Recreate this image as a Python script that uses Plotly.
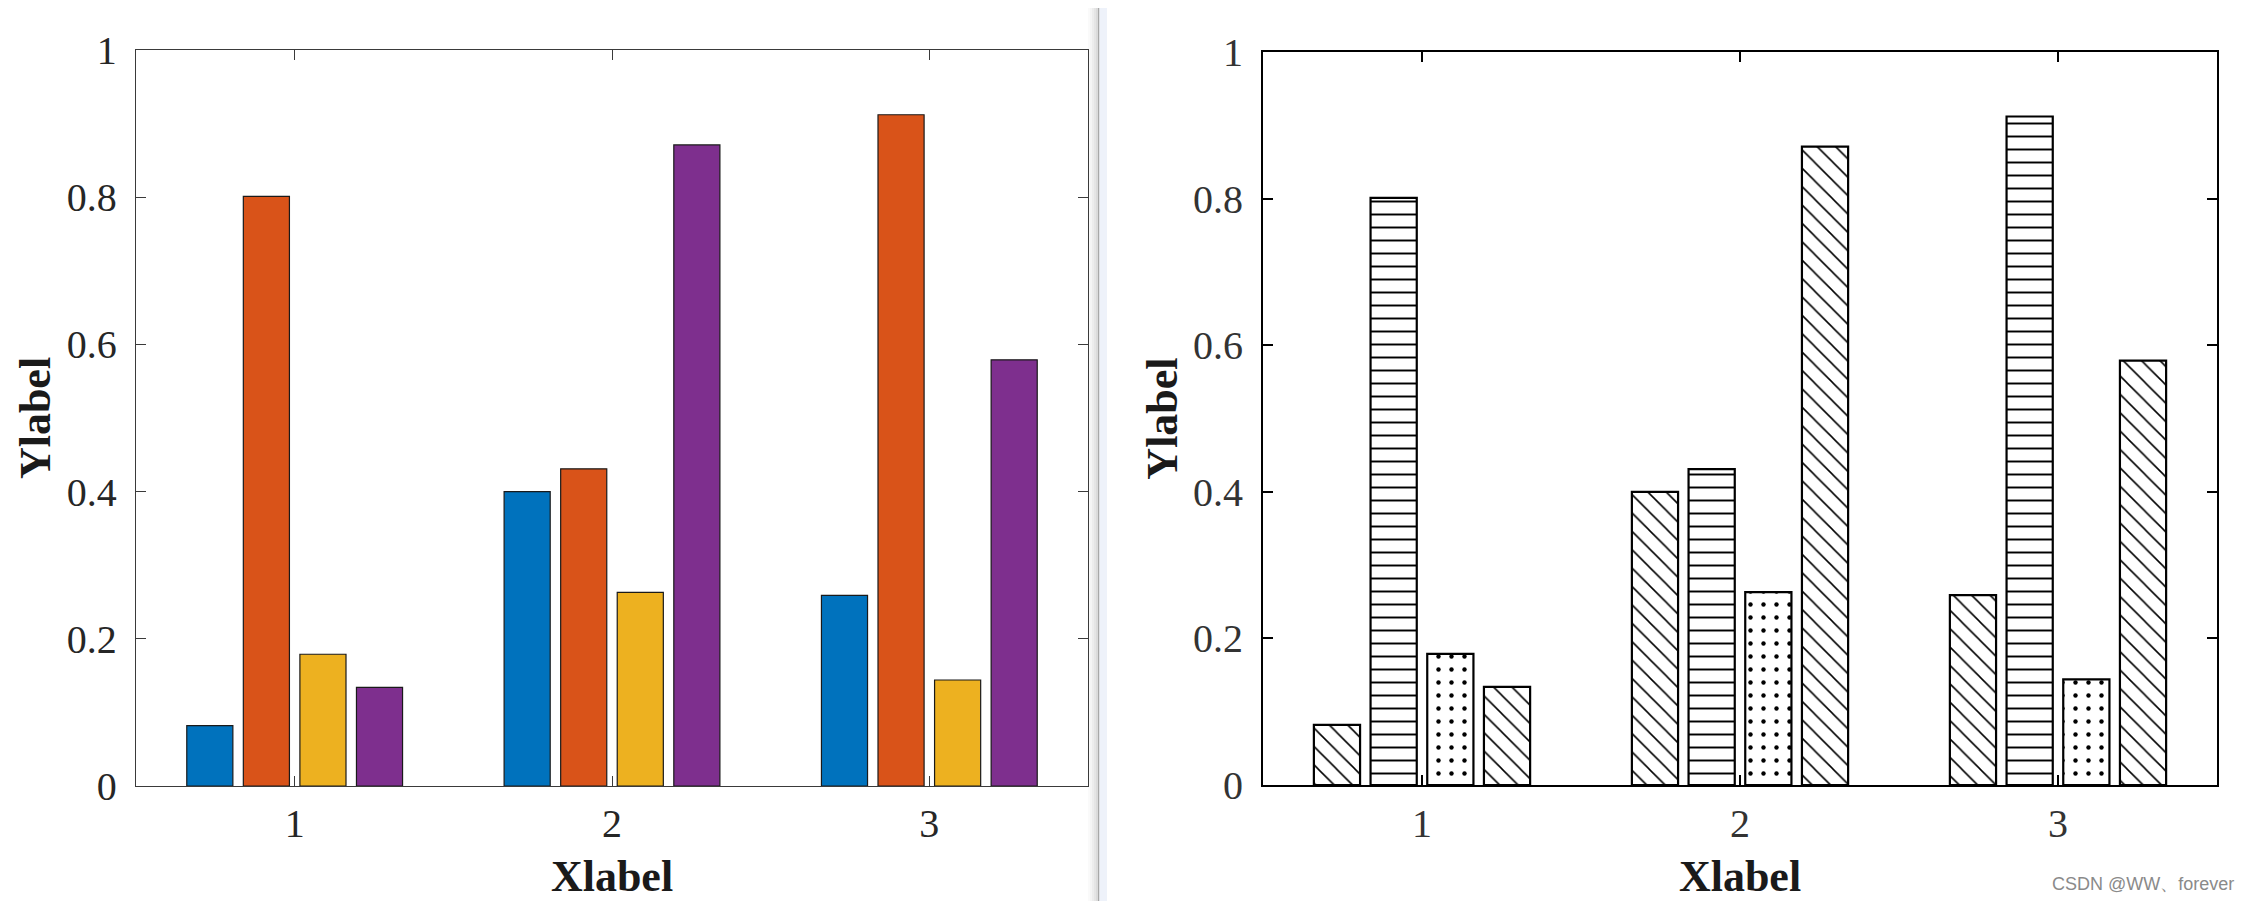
import plotly.graph_objects as go
from plotly.subplots import make_subplots

groups = [1, 2, 3]
series_a = [0.082, 0.400, 0.259]
series_b = [0.801, 0.431, 0.912]
series_c = [0.179, 0.263, 0.144]
series_d = [0.134, 0.871, 0.579]
all_series = [series_a, series_b, series_c, series_d]

colors = ['#0072BD', '#D95319', '#EDB120', '#7E2F8E']
hatches = ['\\', '-', '.', '\\']
hatch_solidity = [0.12, 0.15, 0.09, 0.12]

# page body has an 8px margin, so the figure is a bit smaller and shifted
OFF = 8
W, H = 2250 - OFF, 901 - OFF


def px_x(p):
    return (p - OFF) / W


def px_y(p):
    return 1 - (p - OFF) / H


fig = make_subplots(rows=1, cols=2)

# left: MATLAB default colours
for vals, c in zip(all_series, colors):
    fig.add_trace(go.Bar(x=groups, y=vals, marker=dict(color=c, line=dict(color='#1a1a1a', width=1.2)),
                         showlegend=False), row=1, col=1)

# right: black & white hatch patterns
for vals, shp, sol in zip(all_series, hatches, hatch_solidity):
    fig.add_trace(go.Bar(x=groups, y=vals,
                         marker=dict(color='white', line=dict(color='black', width=2.2),
                                     pattern=dict(shape=shp, size=13, solidity=sol, fgcolor='black',
                                                  bgcolor='white', fillmode='replace')),
                         showlegend=False), row=1, col=2)

tick_font_l = dict(family='Liberation Serif', size=40, color='#262626')
tick_font_r = dict(family='Liberation Serif', size=40, color='#333333')
title_font = dict(family='Liberation Serif', size=44, color='#1a1a1a')

common_x = dict(range=[0.5, 3.5], tickvals=groups, ticks='inside', ticklen=10, mirror='ticks',
                showline=True, showgrid=False, zeroline=False, automargin=False)
common_y = dict(range=[0, 1], tickvals=[0, 0.2, 0.4, 0.6, 0.8, 1], ticktext=['0', '0.2', '0.4', '0.6', '0.8', '1'],
                ticks='inside', ticklen=10, mirror='ticks', showline=True, showgrid=False, zeroline=False,
                automargin=False)

fig.update_xaxes(common_x, row=1, col=1)
fig.update_xaxes(common_x, row=1, col=2)
fig.update_yaxes(common_y, row=1, col=1)
fig.update_yaxes(common_y, row=1, col=2)

fig.update_layout(
    template='none',
    xaxis=dict(domain=[px_x(136), px_x(1088)], linecolor='#3a3a3a', linewidth=1.3, tickcolor='#3a3a3a',
               tickwidth=1.3, tickfont=tick_font_l, ticklabelstandoff=2,
               title=dict(text='<b>Xlabel</b>', font=title_font, standoff=16)),
    yaxis=dict(domain=[px_y(786), px_y(50)], linecolor='#3a3a3a', linewidth=1.3, tickcolor='#3a3a3a',
               tickwidth=1.3, tickfont=tick_font_l, ticklabelstandoff=10,
               title=dict(text='<b>Ylabel</b>', font=title_font, standoff=2)),
    xaxis2=dict(domain=[px_x(1263), px_x(2217)], linecolor='black', linewidth=2.2, tickcolor='black',
                tickwidth=1.5, tickfont=tick_font_r, ticklabelstandoff=2,
                title=dict(text='<b>Xlabel</b>', font=title_font, standoff=16)),
    yaxis2=dict(domain=[px_y(785), px_y(52)], linecolor='black', linewidth=2.2, tickcolor='black',
                tickwidth=1.5, tickfont=tick_font_r, ticklabelstandoff=10,
                title=dict(text='<b>Ylabel</b>', font=title_font, standoff=2)),
    barmode='group', bargap=0.287, bargroupgap=0.185,
    width=W, height=H, margin=dict(l=0, r=0, t=0, b=0, autoexpand=False),
    paper_bgcolor='white', plot_bgcolor='white',
)

# window divider between the two screenshots
for i, a in enumerate([0.02, 0.04, 0.07, 0.1, 0.14]):
    fig.add_shape(type='rect', xref='paper', yref='paper', x0=px_x(1088 + 2 * i), x1=px_x(1090 + 2 * i),
                  y0=0, y1=1, fillcolor=f'rgba(0,0,0,{a})', line_width=0, layer='below')
fig.add_shape(type='rect', xref='paper', yref='paper', x0=px_x(1098), x1=px_x(1099.5), y0=0, y1=1,
              fillcolor='#a8a8a8', line_width=0)
fig.add_shape(type='rect', xref='paper', yref='paper', x0=px_x(1099.5), x1=px_x(1107), y0=0, y1=1,
              fillcolor='#eef2fa', line_width=0)

fig.add_annotation(text='CSDN @WW、forever', xref='paper', yref='paper', x=px_x(2236), y=px_y(884),
                   xanchor='right', yanchor='middle', showarrow=False,
                   font=dict(family='Liberation Sans', size=18, color='#8a8a8a'))

fig.write_html("out.html")
